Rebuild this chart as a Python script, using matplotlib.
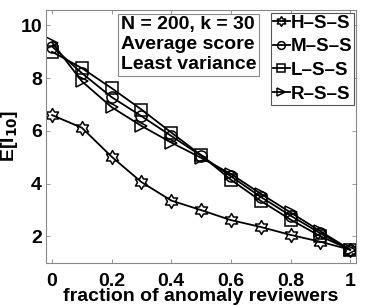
import numpy as np
import matplotlib.pyplot as plt
from matplotlib.path import Path

plt.rcParams['font.family'] = ['Liberation Sans', 'DejaVu Sans']
plt.rcParams['font.weight'] = 'bold'

frac = [0, 0.1, 0.2, 0.3, 0.4, 0.5, 0.6, 0.7, 0.8, 0.9, 1.0]
hss = [6.6, 6.12, 5.02, 4.06, 3.36, 3.0, 2.62, 2.36, 2.06, 1.8, 1.5]
mss = [9.2, 8.19, 7.28, 6.56, 5.81, 5.06, 4.28, 3.5, 2.79, 2.12, 1.5]
lss = [9.0, 8.38, 7.62, 6.81, 5.94, 5.08, 4.15, 3.35, 2.64, 2.01, 1.5]
rss = [9.35, 7.88, 6.9, 6.19, 5.56, 4.98, 4.37, 3.62, 2.91, 2.2, 1.5]
names = ['H\u2013S\u2013S', 'M\u2013S\u2013S', 'L\u2013S\u2013S', 'R\u2013S\u2013S']

# hexagram marker (star of David outline)
ang = np.pi / 2 + np.arange(12) * np.pi / 6
rad = np.where(np.arange(12) % 2 == 0, 1.0, 1 / np.sqrt(3))
verts = np.column_stack([rad * np.cos(ang), rad * np.sin(ang)])
verts = np.vstack([verts, verts[:1]])
hexagram = Path(verts, [Path.MOVETO] + [Path.LINETO] * 11 + [Path.CLOSEPOLY])

fig = plt.figure(figsize=(3.78, 3.06), dpi=100)
ax = fig.add_axes([0.122, 0.141, 0.820, 0.826])

series = [hss, mss, lss, rss]
markers = [hexagram, 'o', 's', '>']
sizes = [10, 8, 8, 8]
for vals, m, ms, name in zip(series, markers, sizes, names):
    ax.plot(frac, vals, color='black', linewidth=1.3, marker=m, markersize=ms,
            markerfacecolor='none', markeredgecolor='black', markeredgewidth=1.1,
            label=name)

ax.set_xlim(-0.02, 1.02)
ax.set_ylim(1.0, 10.58)
ax.set_xticks([0, 0.2, 0.4, 0.6, 0.8, 1])
ax.set_xticklabels(['0', '0.2', '0.4', '0.6', '0.8', '1'])
ax.set_yticks([2, 4, 6, 8, 10])
ax.tick_params(direction='in', length=3, width=0.6, color='#888888',
               top=True, right=True, labelsize=14)
ax.tick_params(axis='x', pad=7)
ax.tick_params(axis='y', pad=3)
for s in ax.spines.values():
    s.set_color('#888888')
    s.set_linewidth(0.8)

ax.set_xlabel('fraction of anomaly reviewers', fontsize=14, fontweight='bold', labelpad=-1)
ax.set_ylabel('E[I$_{\\mathbf{10}}$]', fontsize=14, fontweight='bold', labelpad=0)

ax.text(0.24, 0.975, 'N = 200, k = 30\nAverage score\nLeast variance',
        transform=ax.transAxes, ha='left', va='top', fontsize=14,
        fontweight='bold', linespacing=1.2,
        bbox=dict(boxstyle='square,pad=0.15', facecolor='white', edgecolor='#888888', linewidth=0.8))

leg = ax.legend(loc='upper right', bbox_to_anchor=(0.994, 0.99), fontsize=13.5,
                handlelength=0.9, handletextpad=0.05, borderpad=0.1, labelspacing=0.35,
                borderaxespad=0.0, fancybox=False, framealpha=1, markerscale=0.7)
leg.get_frame().set_edgecolor('#555555')
leg.get_frame().set_linewidth(0.8)

fig.savefig('out.png', dpi=100)
